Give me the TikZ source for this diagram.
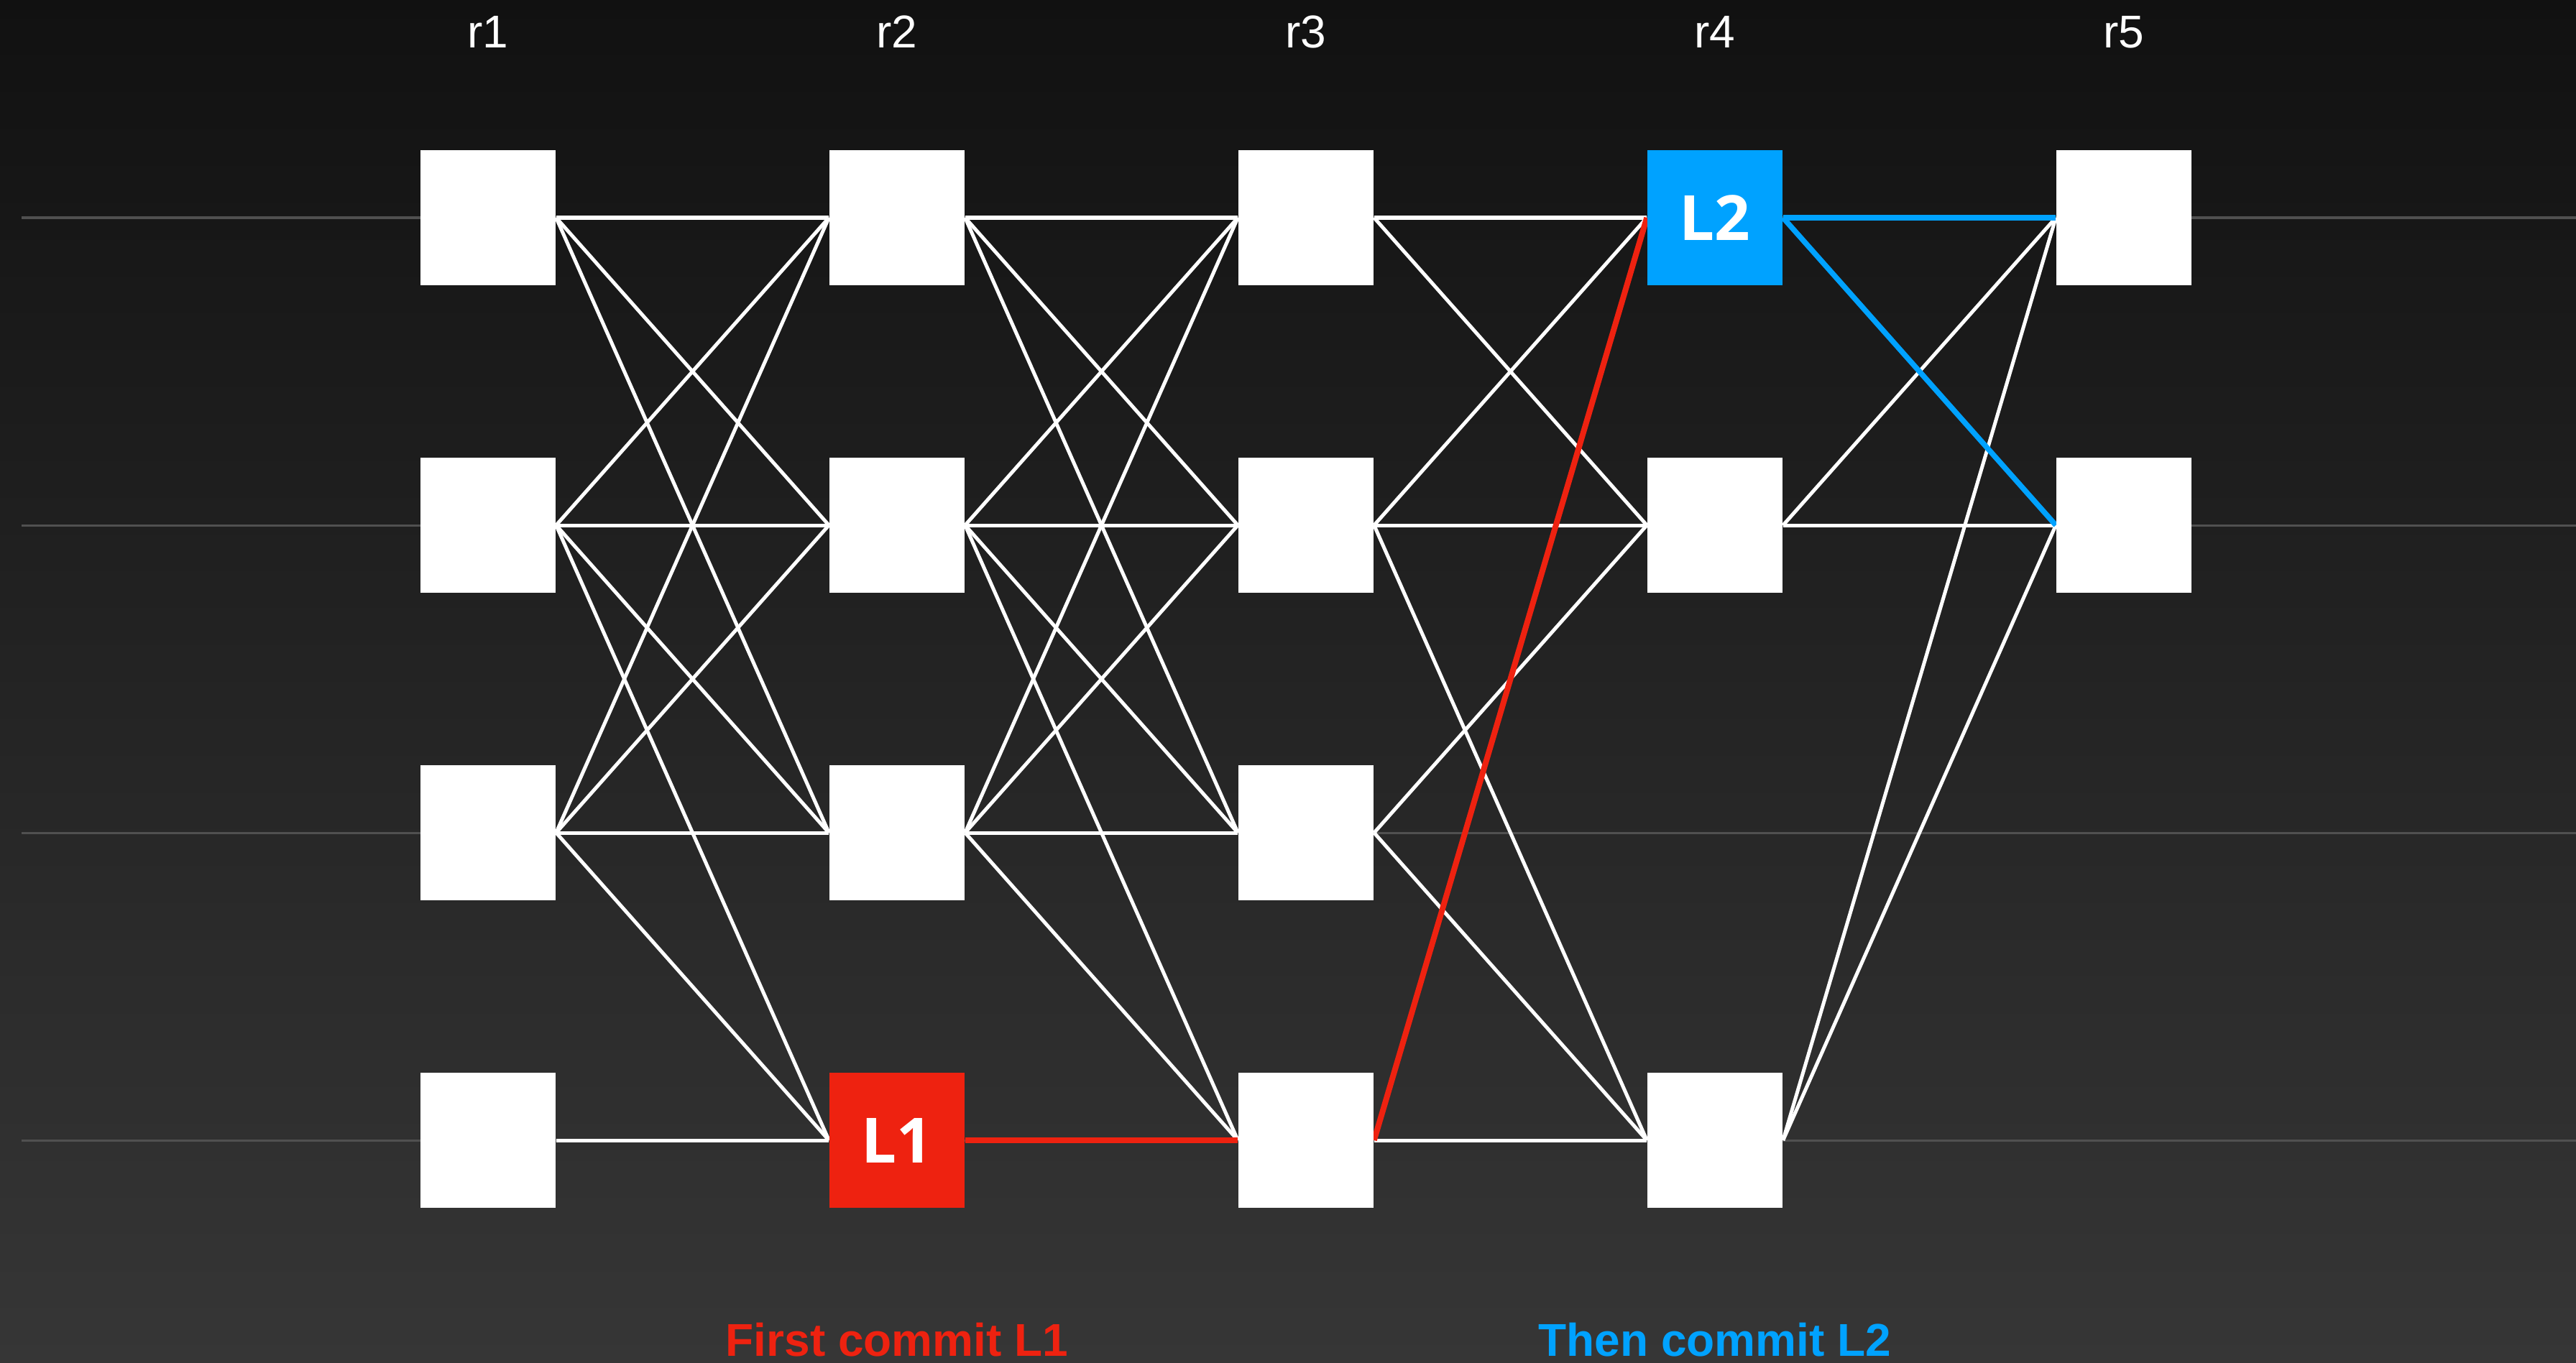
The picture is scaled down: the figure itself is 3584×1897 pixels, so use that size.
\documentclass[tikz,border=0pt]{standalone}
\usepackage{fontspec}
\setmainfont{Liberation Sans}
\newfontfamily\lblfont{Open Sans}
\pgfdeclarelayer{bg}
\pgfdeclarelayer{edges}
\pgfsetlayers{bg,edges,main}
\definecolor{redc}{HTML}{EE2210}
\definecolor{bluec}{HTML}{00A2FF}
\definecolor{guide}{HTML}{505050}
\definecolor{bgtop}{HTML}{111111}
\definecolor{bgbot}{HTML}{363636}
\begin{document}
\begin{tikzpicture}[x=0.01cm,y=-0.01cm,
  box/.style={fill=white,draw=none,inner sep=0pt,minimum width=1.88cm,minimum height=1.88cm},
  redbox/.style={box,fill=redc,text=white,font=\lblfont\bfseries\fontsize{24.7}{26}\selectfont},
  bluebox/.style={box,fill=bluec,text=white,font=\lblfont\bfseries\fontsize{24.7}{26}\selectfont},
  wire/.style={white,line width=0.05cm},
  redwire/.style={redc,line width=0.08cm},
  bluewire/.style={bluec,line width=0.075cm},
  guideline/.style={guide,line width=0.03cm},
  colhead/.style={anchor=base,text=white,font=\fontsize{18.2}{20}\selectfont},
  caption/.style={anchor=base,font=\bfseries\fontsize{18.2}{20}\selectfont}]

\useasboundingbox (0,0) rectangle (3584,1897);
\begin{pgfonlayer}{bg}
  \shade[top color=bgtop,bottom color=bgbot] (0,0) rectangle (3584,1897);
\end{pgfonlayer}

% guide coordinates
\coordinate (gL1) at (30,303);  \coordinate (gR1) at (3584,303);
\coordinate (gL2) at (30,731);  \coordinate (gR2) at (3584,731);
\coordinate (gL3) at (30,1159); \coordinate (gR3) at (3584,1159);
\coordinate (gL4) at (30,1587); \coordinate (gR4) at (3584,1587);

% column headers
\node[colhead] (h1) at (679,67) {r1};
\node[colhead] (h2) at (1248,67) {r2};
\node[colhead] (h3) at (1817,67) {r3};
\node[colhead] (h4) at (2386,67) {r4};
\node[colhead] (h5) at (2955,67) {r5};

% nodes
\node[box] (n11) at (679,303) {};
\node[box] (n12) at (679,731) {};
\node[box] (n13) at (679,1159) {};
\node[box] (n14) at (679,1587) {};

\node[box] (n21) at (1248,303) {};
\node[box] (n22) at (1248,731) {};
\node[box] (n23) at (1248,1159) {};
\node[redbox] (n24) at (1248,1587) {L1};

\node[box] (n31) at (1817,303) {};
\node[box] (n32) at (1817,731) {};
\node[box] (n33) at (1817,1159) {};
\node[box] (n34) at (1817,1587) {};

\node[bluebox] (n41) at (2386,303) {L2};
\node[box] (n42) at (2386,731) {};
\node[box] (n44) at (2386,1587) {};

\node[box] (n51) at (2955,303) {};
\node[box] (n52) at (2955,731) {};

% captions
\node[caption,text=redc] (c1) at (1248,1887) {First commit L1};
\node[caption,text=bluec] (c2) at (2386,1887) {Then commit L2};

\begin{pgfonlayer}{edges}
  \foreach \i in {1,2,3,4} \draw[guideline] (gL\i) -- (gR\i);
  % r1 -> r2
  \foreach \a/\b in {11/21,11/22,11/23,12/21,12/22,12/23,12/24,13/21,13/22,13/23,13/24,14/24}
    \draw[wire] (n\a.east) -- (n\b.west);
  % r2 -> r3
  \foreach \a/\b in {21/31,21/32,21/33,22/31,22/32,22/33,22/34,23/31,23/32,23/33,23/34}
    \draw[wire] (n\a.east) -- (n\b.west);
  % r3 -> r4
  \foreach \a/\b in {31/41,31/42,32/41,32/42,32/44,33/42,33/44,34/44}
    \draw[wire] (n\a.east) -- (n\b.west);
  % r4 -> r5
  \foreach \a/\b in {42/51,42/52,44/51,44/52}
    \draw[wire] (n\a.east) -- (n\b.west);
  % committed paths
  \draw[redwire] (n24.east) -- (n34.west);
  \draw[redwire] (n34.east) -- (n41.west);
  \draw[bluewire] (n41.east) -- (n51.west);
  \draw[bluewire] (n41.east) -- (n52.west);
\end{pgfonlayer}
\end{tikzpicture}
\end{document}
